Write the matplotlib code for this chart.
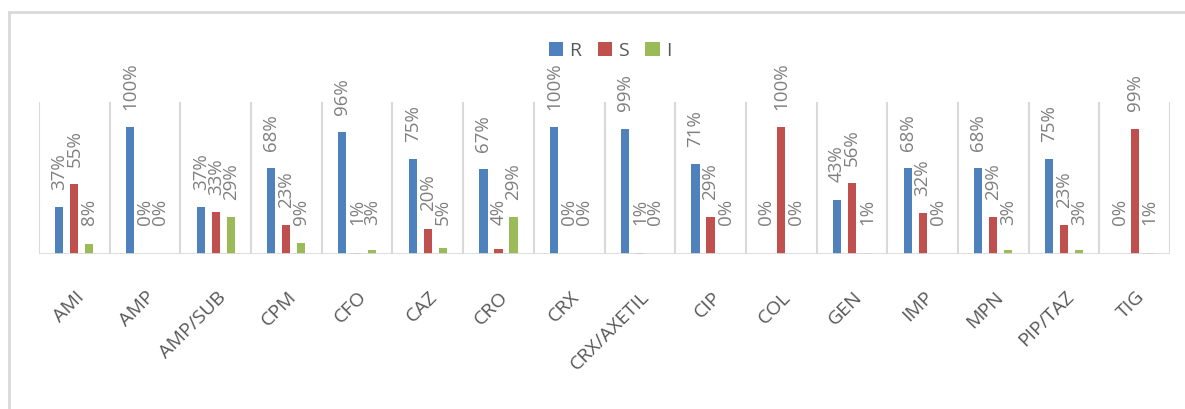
import matplotlib
matplotlib.use("Agg")
import matplotlib.pyplot as plt
from matplotlib.lines import Line2D
import numpy as np

plt.rcParams['font.family'] = ['Open Sans', 'DejaVu Sans']

# antibiotics and share of isolates (R = resistant, S = sensitive, I = intermediate)
drugs = ['AMI', 'AMP', 'AMP/SUB', 'CPM', 'CFO', 'CAZ', 'CRO', 'CRX',
         'CRX/AXETIL', 'CIP', 'COL', 'GEN', 'IMP', 'MPN', 'PIP/TAZ', 'TIG']
r_vals = [37, 100, 37, 68, 96, 75, 67, 100, 99, 71, 0, 43, 68, 68, 75, 0]
s_vals = [55, 0, 33, 23, 1, 20, 4, 0, 1, 29, 100, 56, 32, 29, 23, 99]
i_vals = [8, 0, 29, 9, 3, 5, 29, 0, 0, 0, 0, 1, 0, 3, 3, 1]

series = [('R', r_vals, '#4F81BD'), ('S', s_vals, '#C0504D'), ('I', i_vals, '#9BBB59')]

W, H = 1185, 409
fig = plt.figure(figsize=(W / 100, H / 100), dpi=100)
ax = fig.add_axes([39 / W, (H - 254) / H, (1170 - 39) / W, (254 - 102) / H])

x = np.arange(len(drugs))
bw = 0.115
step = 0.212
for k, (name, vals, col) in enumerate(series):
    v = np.array(vals) / 100.0
    xs = x + (k - 1) * step
    ax.bar(xs, v, width=bw, color=col, label=name, zorder=3)
    for xi, vi, raw in zip(xs, v, vals):
        ax.annotate(f'{raw}%', (xi, max(vi, 0.09)), xytext=(0, 12.5),
                    textcoords='offset points', rotation=90,
                    ha='center', va='bottom', fontsize=13.5, color='#7F7F7F')

ax.set_xlim(-0.5, len(drugs) - 0.5)
ax.set_ylim(0, 1.2)
for b in np.arange(-0.5, len(drugs), 1.0):
    ax.axvline(b, color='#D9D9D9', lw=1.5, zorder=1)
for sp in ax.spines.values():
    sp.set_visible(False)
ax.axhline(0, color='#D9D9D9', lw=2, zorder=4)
ax.set_yticks([])
ax.set_xticks(x)
ax.set_xticklabels([])
ax.tick_params(length=0)

for xi, d in zip(x, drugs):
    ax.annotate(d, (xi + 0.1, 0), xytext=(0, -29), textcoords='offset points',
                rotation=45, rotation_mode='anchor', ha='right', va='center',
                fontsize=14, color='#595959')

leg = fig.legend(loc='center', bbox_to_anchor=(610 / W, 1 - 51 / H), ncol=3,
                 frameon=False, fontsize=14, handlelength=0.75, handleheight=0.75,
                 handletextpad=0.3, columnspacing=0.85, labelcolor='#595959')

# outer chart border (top and left only visible)
fig.add_artist(Line2D([9 / W, 1], [1 - 12 / H, 1 - 12 / H], color='#D9D9D9', lw=2))
fig.add_artist(Line2D([9 / W, 9 / W], [0, 1 - 12 / H], color='#D9D9D9', lw=2))

fig.savefig('out.png', dpi=100, facecolor='white')
